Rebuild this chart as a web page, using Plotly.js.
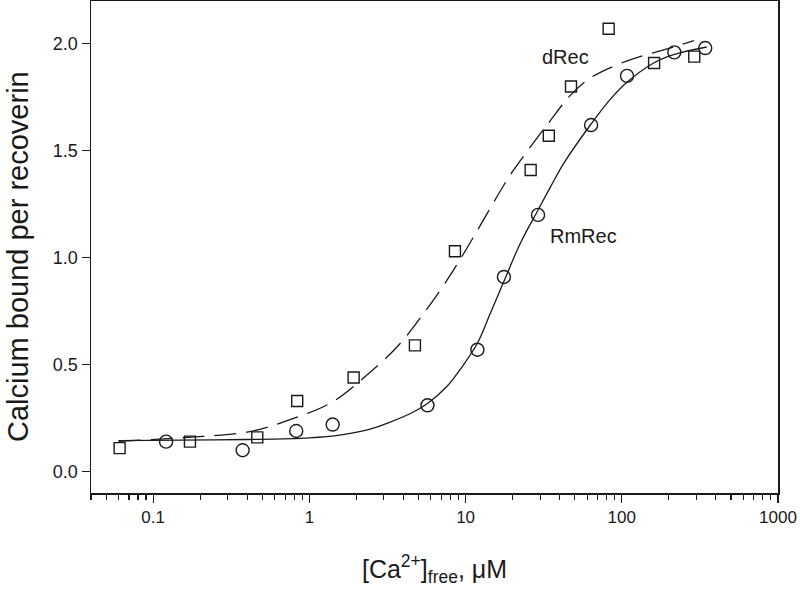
<!DOCTYPE html>
<html>
<head>
<meta charset="utf-8">
<script src="https://cdn.plot.ly/plotly-3.0.1.min.js"></script>
<style>
  html, body { margin: 0; padding: 0; background: #fff; }
  #chart { width: 800px; height: 591px; }
</style>
</head>
<body>
<div id="chart"></div>
<script>
var dRecX = [0.061, 0.172, 0.464, 0.836, 1.92, 4.74, 8.55, 26.1, 34.1, 47.3, 82.4, 161, 291];
var dRecY = [0.11, 0.14, 0.16, 0.33, 0.44, 0.59, 1.03, 1.41, 1.57, 1.80, 2.07, 1.91, 1.94];

var rmRecX = [0.121, 0.374, 0.824, 1.41, 5.7, 11.9, 17.6, 29.1, 63.6, 108, 217, 342];
var rmRecY = [0.14, 0.10, 0.19, 0.22, 0.31, 0.57, 0.91, 1.20, 1.62, 1.85, 1.96, 1.98];

// fitted curves
var dFitX = [0.06, 0.167, 0.423, 0.8, 1.37, 2.24, 3.66, 5.42, 7.64, 9.74, 13.1, 17.6, 20.3, 34.8, 47, 62.8, 108, 214, 290];
var dFitY = [0.142, 0.16, 0.188, 0.25, 0.321, 0.44, 0.585, 0.742, 0.897, 1.02, 1.18, 1.34, 1.41, 1.64, 1.76, 1.84, 1.92, 1.985, 2.015];

var rmFitX = [0.06, 0.15, 0.4, 1, 1.6, 2.35, 3.2, 4.67, 5.7, 7.64, 9.5, 11.9, 14.4, 17.6, 22.5, 28.7, 34.9, 42.4, 63.6, 84.3, 108, 160, 217, 350];
var rmFitY = [0.145, 0.147, 0.150, 0.158, 0.172, 0.195, 0.228, 0.28, 0.318, 0.40, 0.49, 0.60, 0.74, 0.89, 1.07, 1.215, 1.33, 1.44, 1.625, 1.74, 1.82, 1.91, 1.95, 1.985];

var xTicks = [0.1, 1, 10, 100, 1000];
var xTickText = ['0.1', '1', '10', '100', '1000'];

var minorVals = [];
for (var dec = 0.01; dec < 1000; dec *= 10) {
    for (var k = 2; k <= 9; k++) {
        var v = k * dec;
        if (v >= 0.04 && v < 1000) minorVals.push(v);
    }
}

var ink = '#1a1a1a';
var font = 'Arial, "Liberation Sans", sans-serif';

var traces = [
    {
        x: dFitX, y: dFitY, mode: 'lines', type: 'scatter',
        line: {color: ink, width: 1.3, dash: '22px,10px', shape: 'spline', smoothing: 1},
        hoverinfo: 'skip', showlegend: false
    },
    {
        x: rmFitX, y: rmFitY, mode: 'lines', type: 'scatter',
        line: {color: ink, width: 1.3, shape: 'spline', smoothing: 1},
        hoverinfo: 'skip', showlegend: false
    },
    {
        x: dRecX, y: dRecY, mode: 'markers', type: 'scatter', name: 'dRec',
        marker: {symbol: 'square-open', size: 11, color: ink, line: {width: 1.4}},
        showlegend: false
    },
    {
        x: rmRecX, y: rmRecY, mode: 'markers', type: 'scatter', name: 'RmRec',
        marker: {symbol: 'circle-open', size: 13, color: ink, line: {width: 1.4}},
        showlegend: false
    }
];

var layout = {
    width: 800, height: 591,
    margin: {l: 91, r: 22, t: 1, b: 98},
    paper_bgcolor: '#fff', plot_bgcolor: '#fff',
    font: {family: font, color: ink},
    xaxis: {
        type: 'log',
        range: [Math.log10(0.04), 3],
        tickmode: 'array', tickvals: xTicks, ticktext: xTickText,
        ticks: 'outside', ticklen: 8, tickwidth: 1.3, tickcolor: ink,
        minor: {tickmode: 'array', tickvals: minorVals, ticks: 'outside', ticklen: 5, tickwidth: 1.1, tickcolor: ink, showgrid: false},
        showline: true, linecolor: ink, linewidth: 1.5, mirror: true,
        showgrid: false, zeroline: false,
        tickfont: {size: 17},
        title: {text: '[Ca<sup>2+</sup>]<sub>free</sub>, μM', font: {size: 25}, standoff: 34}
    },
    yaxis: {
        range: [-0.1, 2.2],
        tickmode: 'array', tickvals: [0, 0.5, 1, 1.5, 2], ticktext: ['0.0', '0.5', '1.0', '1.5', '2.0'],
        ticks: 'outside', ticklen: 8, tickwidth: 1.3, tickcolor: ink,
        showline: true, linecolor: ink, linewidth: 1.5, mirror: true,
        showgrid: false, zeroline: false,
        tickfont: {size: 18}
    },
    annotations: [
        {x: Math.log10(43.5), y: 1.94, text: 'dRec', showarrow: false, font: {size: 20}},
        {x: Math.log10(56.7), y: 1.10, text: 'RmRec', showarrow: false, font: {size: 20}},
        {xref: 'paper', yref: 'paper', x: -0.106, y: 0.48, xanchor: 'center', yanchor: 'middle',
         textangle: -90, text: 'Calcium bound per recoverin', showarrow: false, font: {size: 29}}
    ]
};

Plotly.newPlot('chart', traces, layout, {staticPlot: true});
</script>
</body>
</html>
